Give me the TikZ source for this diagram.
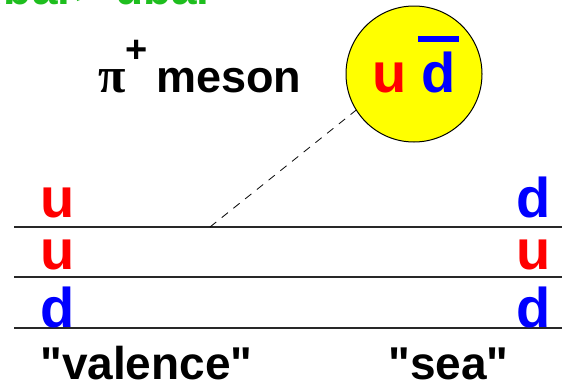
\documentclass[tikz,border=0pt]{standalone}
\usepackage{fontspec}
\setmainfont{Liberation Sans}[Ligatures=TeXOff]
\newfontfamily\greekfont{Liberation Serif}
\usepackage{xcolor}
\usetikzlibrary{positioning}
\definecolor{upcolor}{RGB}{255,0,0}
\definecolor{downcolor}{RGB}{0,0,255}
\definecolor{titlegreen}{RGB}{30,190,30}
\definecolor{pioncolor}{RGB}{255,255,0}
\definecolor{linecolor}{RGB}{40,40,40}

\begin{document}
\begin{tikzpicture}[
    x=1pt, y=-1pt,
    quark/.style={font=\fontsize{56}{56}\selectfont\bfseries, inner sep=0pt},
    caption/.style={font=\fontsize{46}{46}\selectfont\bfseries, inner sep=0pt, anchor=base west},
    sealine/.style={linecolor, line width=1.4pt},
    pion/.style={circle, draw=black, line width=1pt, fill=pioncolor, minimum size=136pt, inner sep=0pt}
]
\useasboundingbox (0,0) rectangle (562,383);
\clip (0,0) rectangle (562,383);

% Cut-off heading at the top
\node[caption, anchor=base east, text=titlegreen] (heading) at (215,4) {dbar> ubar};

% Pion label
\node[inner sep=0pt, anchor=base west, font=\greekfont\fontsize{50}{50}\selectfont\bfseries] (pisym) at (98,92) {π};
\node[inner sep=0pt, anchor=base west, font=\fontsize{38}{38}\selectfont\bfseries] (picharge) at (125,62) {+};
\node[caption, font=\fontsize{45}{45}\selectfont\bfseries] (meson) at (156,92) {meson};

% The pion as a bound pair
\node[pion] (pion) at (414,74) {};
\node[quark, anchor=base west, text=upcolor] (pionu) at (372,92) {u};
\node[quark, anchor=base west, text=downcolor] (piond) at (421,92) {d};
\draw[downcolor, line width=6pt] ([xshift=-3pt,yshift=12pt]piond.north west) -- ([xshift=3pt,yshift=12pt]piond.north east);

% Quark lines of the proton
\coordinate (l1w) at (14,227); \coordinate (l1e) at (562,227);
\coordinate (l2w) at (14,277); \coordinate (l2e) at (562,277);
\coordinate (l3w) at (14,328); \coordinate (l3e) at (562,328);
\draw[sealine] (l1w) -- (l1e);
\draw[sealine] (l2w) -- (l2e);
\draw[sealine] (l3w) -- (l3e);

% Valence quarks (left) and sea quarks (right)
\node[quark, anchor=base west, text=upcolor]   (v1) at (40,217) {u};
\node[quark, anchor=base west, text=upcolor]   (v2) at (40,269) {u};
\node[quark, anchor=base west, text=downcolor] (v3) at (40,327) {d};
\node[quark, anchor=base east, text=downcolor] (s1) at (551,217) {d};
\node[quark, anchor=base east, text=upcolor]   (s2) at (551,269) {u};
\node[quark, anchor=base east, text=downcolor] (s3) at (551,327) {d};

% Fluctuation into the pion
\coordinate (emit) at (210,227);
\draw[dashed, line width=0.8pt, dash pattern=on 8pt off 7pt] (emit) -- (pion.212);

% Column labels
\node[caption] (valence) at (40,379) {"valence"};
\node[caption] (sea) at (388,379) {"sea"};
\end{tikzpicture}
\end{document}
